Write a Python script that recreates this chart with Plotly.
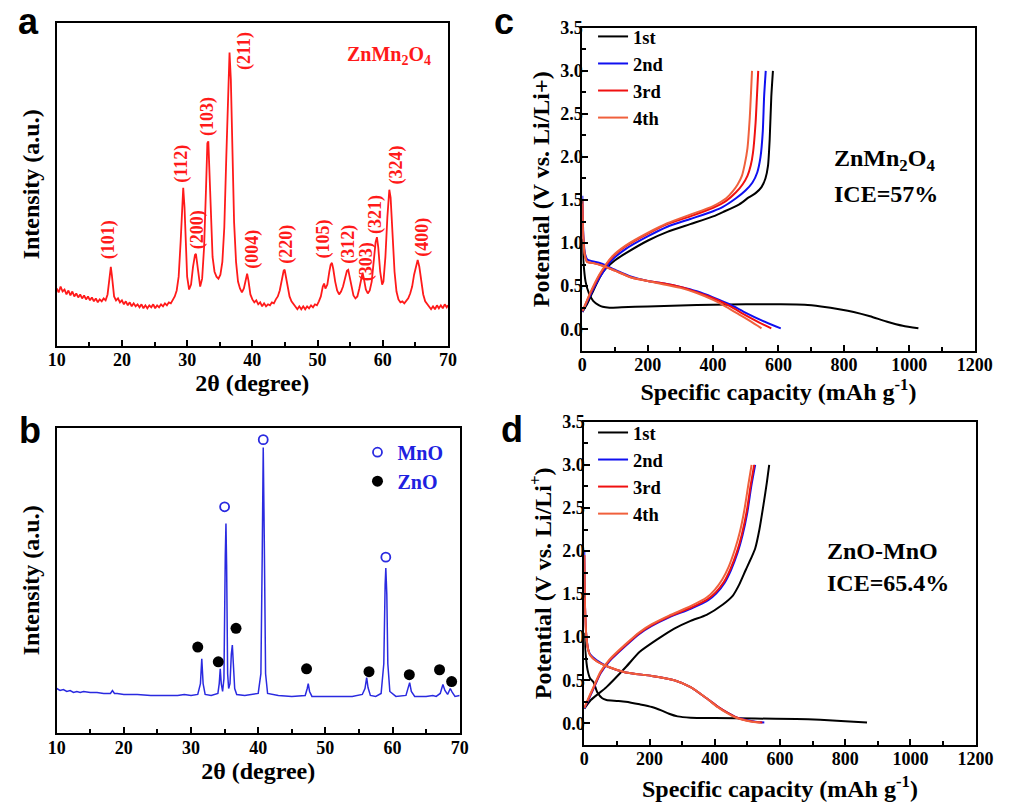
import plotly.graph_objects as go

# ---------------- Panel a: XRD ZnMn2O4 ----------------
xrd_a_2theta = [10.0, 10.3, 10.6, 10.9, 11.2, 11.5, 11.8, 12.1, 12.4, 12.7, 13.0, 13.3, 13.6, 13.9, 14.2, 14.5,
                14.8, 15.1, 15.4, 15.7, 16.0, 16.3, 16.6, 16.9, 17.2, 17.5, 17.8, 18.0, 18.2, 18.3, 18.45, 18.6,
                18.8, 19.1, 19.4, 19.7, 20.0, 20.3, 20.6, 20.9, 21.2, 21.5, 21.8, 22.1, 22.4, 22.7, 23.0, 23.3,
                23.6, 23.9, 24.2, 24.5, 24.8, 25.1, 25.4, 25.7, 26.0, 26.3, 26.6, 26.9, 27.2, 27.5, 27.8, 28.1,
                28.4, 28.7, 29.0, 29.2, 29.4, 29.6, 29.8, 30.0, 30.3, 30.6, 30.9, 31.2, 31.35, 31.5, 31.8, 32.0,
                32.3, 32.6, 32.9, 33.1, 33.25, 33.4, 33.6, 33.9, 34.2, 34.5, 34.8, 35.1, 35.4, 35.7, 36.0, 36.3,
                36.5, 36.7, 36.9, 37.2, 37.5, 37.8, 38.1, 38.4, 38.7, 39.0, 39.2, 39.4, 39.7, 40.0, 40.3, 40.6,
                40.9, 41.2, 41.5, 41.8, 42.1, 42.4, 42.7, 43.0, 43.3, 43.6, 43.9, 44.2, 44.5, 44.8, 44.95, 45.1,
                45.4, 45.7, 46.0, 46.3, 46.6, 46.9, 47.2, 47.5, 47.8, 48.1, 48.4, 48.7, 49.0, 49.3, 49.6, 49.9,
                50.2, 50.5, 50.8, 51.0, 51.2, 51.5, 51.8, 52.0, 52.2, 52.4, 52.7, 53.0, 53.3, 53.6, 53.9, 54.2,
                54.5, 54.7, 54.9, 55.2, 55.5, 55.8, 56.1, 56.4, 56.7, 56.9, 57.1, 57.4, 57.7, 58.0, 58.3, 58.6,
                58.9, 59.1, 59.3, 59.6, 59.9, 60.1, 60.4, 60.7, 61.0, 61.2, 61.5, 61.8, 62.1, 62.4, 62.7, 63.0,
                63.3, 63.6, 63.9, 64.2, 64.5, 64.8, 65.1, 65.35, 65.6, 65.9, 66.2, 66.5, 66.8, 67.1, 67.4, 67.7,
                68.0, 68.3, 68.6, 68.9, 69.2, 69.5, 69.8, 70.0]
xrd_a_intensity = [58, 54, 60, 55, 57, 52, 56, 51, 55, 50, 53, 49, 52, 48, 51, 47,
                   50, 46, 49, 45, 48, 44, 47, 45, 48, 46, 52, 62, 76, 80, 72, 58,
                   50, 46, 48, 44, 46, 42, 45, 41, 44, 40, 43, 40, 42, 39, 42, 38,
                   41, 38, 41, 39, 42, 38, 41, 39, 42, 40, 43, 41, 44, 43, 47, 50,
                   56, 70, 105, 140, 160, 140, 100, 70, 57, 62, 80, 92, 93, 85, 65, 60,
                   68, 100, 160, 205, 207, 180, 130, 90, 75, 70, 68, 72, 85, 120, 190, 265,
                   297, 270, 200, 125, 85, 65, 58, 54, 58, 68, 73, 66, 52, 47, 44, 46,
                   42, 44, 40, 43, 40, 42, 41, 44, 43, 47, 50, 56, 66, 76, 77, 72,
                   60, 50, 45, 42, 40, 37, 40, 37, 40, 37, 40, 38, 41, 39, 42, 41,
                   45, 50, 60, 63, 58, 62, 75, 82, 84, 78, 65, 56, 52, 55, 60, 68,
                   76, 77, 70, 58, 51, 48, 50, 58, 70, 74, 68, 57, 53, 56, 65, 85,
                   105, 110, 100, 75, 62, 65, 90, 130, 158, 150, 110, 75, 55, 47, 44, 45,
                   43, 46, 48, 53, 60, 72, 82, 87, 80, 65, 52, 45, 42, 40, 37, 40,
                   37, 41, 38, 41, 38, 42, 39, 41]
peak_labels = ["(101)", "(112)", "(200)", "(103)", "(211)", "(004)", "(220)",
               "(105)", "(312)", "(303)", "(321)", "(324)", "(400)"]
peak_label_x = [17.9, 29.0, 31.5, 33.1, 38.8, 39.9, 45.1, 50.9, 54.6, 57.5, 58.9, 62.1, 66.1]
peak_label_y = [107, 184, 118, 232, 298, 98, 103, 108, 103, 85, 133, 183, 110]

# ---------------- Panel b: XRD ZnO-MnO ----------------
xrd_b_2theta = [10, 10.5, 11, 11.5, 12, 12.5, 13, 13.5, 14, 15, 16, 17, 18, 18.3, 18.6, 19, 20, 22, 24, 26,
                28, 29, 30, 31, 31.4, 31.6, 31.8, 32.1, 33, 34, 34.2, 34.35, 34.5, 34.7, 34.9, 35.1, 35.2,
                35.3, 35.45, 35.6, 35.8, 36.0, 36.15, 36.3, 36.5, 36.8, 38, 40.0, 40.4, 40.6, 40.75, 40.9,
                41.1, 41.4, 43, 45, 47, 47.3, 47.45, 47.65, 48, 50, 52, 54, 55.5, 55.9, 56.15, 56.35, 56.7,
                57.5, 58.3, 58.7, 58.9, 59.0, 59.15, 59.3, 59.6, 60.5, 62, 62.35, 62.55, 62.8, 63.3, 65, 66,
                66.5, 67.1, 67.5, 67.8, 68.2, 68.6, 68.9, 69.3, 70]
xrd_b_intensity = [45, 43, 44, 42, 43, 41, 42, 41, 42, 41, 41, 40, 40, 43, 40, 40, 39, 39, 38, 38,
                   38, 39, 38, 39, 50, 75, 50, 39, 38, 40, 50, 65, 50, 42, 55, 180, 212,
                   170, 60, 45, 50, 80, 89, 70, 45, 39, 38, 40, 60, 180, 289, 200,
                   60, 40, 38, 37, 38, 45, 50, 42, 37, 37, 37, 37, 39, 45, 56, 46, 38,
                   37, 40, 70, 150, 167, 140, 70, 42, 37, 38, 45, 51, 42, 37, 37, 38,
                   37, 40, 49, 43, 39, 45, 41, 37, 38]
mno_x = [35.0, 40.75, 59.0]
mno_y = [229, 297, 178]
zno_x = [31.0, 34.06, 36.7, 47.2, 56.5, 62.5, 67.0, 68.8]
zno_y = [87, 72, 106, 65, 62, 59, 64, 52]
legend_b_names = ["MnO", "ZnO"]

# ---------------- Panel c: ZnMn2O4 charge/discharge ----------------
cycle_names = ["1st", "2nd", "3rd", "4th"]
c_dis1_cap = [0, 3, 10, 20, 33, 50, 62, 83, 120, 200, 300, 400, 500, 600, 680, 730, 790, 830, 880, 930, 980, 1028]
c_dis1_v = [1.05, 0.80, 0.55, 0.42, 0.33, 0.28, 0.26, 0.25, 0.255, 0.265, 0.275, 0.285, 0.29, 0.29, 0.285, 0.265,
            0.23, 0.20, 0.15, 0.09, 0.04, 0.01]
c_chg1_cap = [0, 13, 30, 62, 100, 132, 201, 260, 330, 400, 430, 480, 509, 530, 548, 560, 568, 573, 578, 583]
c_chg1_v = [0.20, 0.28, 0.42, 0.66, 0.80, 0.88, 1.03, 1.13, 1.22, 1.31, 1.36, 1.45, 1.53, 1.58, 1.65, 1.75, 1.90,
            2.20, 2.70, 3.00]
c_dis2_cap = [0, 3, 8, 15, 30, 60, 100, 150, 200, 250, 300, 350, 400, 450, 500, 550, 607]
c_dis2_v = [1.55, 1.10, 0.88, 0.81, 0.79, 0.76, 0.69, 0.61, 0.56, 0.53, 0.49, 0.44, 0.37, 0.29, 0.19, 0.10, 0.01]
c_chg2_cap = [0, 5, 25, 53, 90, 132, 201, 260, 330, 400, 430, 470, 499, 520, 535, 545, 552, 556, 561]
c_chg2_v = [0.20, 0.24, 0.40, 0.60, 0.80, 0.93, 1.08, 1.19, 1.28, 1.37, 1.42, 1.52, 1.61, 1.70, 1.82, 2.00, 2.30,
            2.70, 3.00]
c_dis3_cap = [0, 3, 8, 15, 30, 60, 100, 150, 200, 250, 300, 350, 400, 450, 500, 540, 578]
c_dis3_v = [1.50, 1.05, 0.85, 0.78, 0.77, 0.74, 0.68, 0.60, 0.56, 0.53, 0.49, 0.43, 0.36, 0.27, 0.16, 0.08, 0.01]
c_chg3_cap = [0, 5, 25, 53, 90, 132, 201, 260, 330, 400, 440, 470, 490, 505, 515, 522, 530, 534, 538]
c_chg3_v = [0.21, 0.25, 0.42, 0.63, 0.83, 0.96, 1.11, 1.22, 1.31, 1.41, 1.49, 1.59, 1.68, 1.78, 1.90, 2.05, 2.40,
            2.70, 3.00]
c_dis4_cap = [0, 3, 8, 15, 30, 60, 100, 150, 200, 250, 300, 350, 400, 440, 480, 515, 548]
c_dis4_v = [1.50, 1.05, 0.85, 0.78, 0.77, 0.74, 0.68, 0.60, 0.56, 0.52, 0.48, 0.42, 0.34, 0.26, 0.17, 0.09, 0.01]
c_chg4_cap = [0, 5, 25, 53, 90, 132, 201, 260, 330, 400, 440, 460, 475, 488, 497, 505, 512, 516, 519]
c_chg4_v = [0.21, 0.25, 0.43, 0.64, 0.84, 0.97, 1.12, 1.23, 1.33, 1.43, 1.52, 1.60, 1.68, 1.78, 1.92, 2.10, 2.45,
            2.75, 3.00]

# ---------------- Panel d: ZnO-MnO charge/discharge ----------------
d_dis1_cap = [0, 3, 10, 18, 28, 40, 55, 68, 100, 127, 170, 207, 236, 260, 286, 326, 400, 524, 650, 723, 800, 867]
d_dis1_v = [1.05, 0.85, 0.62, 0.52, 0.48, 0.36, 0.29, 0.27, 0.26, 0.25, 0.22, 0.19, 0.15, 0.11, 0.08, 0.065, 0.06,
            0.055, 0.05, 0.04, 0.025, 0.01]
d_chg1_cap = [0, 20, 68, 127, 170, 226, 276, 326, 375, 425, 455, 475, 495, 512, 524, 537, 550, 560, 567]
d_chg1_v = [0.17, 0.27, 0.42, 0.65, 0.83, 0.98, 1.10, 1.19, 1.26, 1.38, 1.48, 1.61, 1.78, 1.92, 2.03, 2.25, 2.55,
            2.80, 3.00]
d_dis2_cap = [0, 2, 6, 12, 18, 38, 77, 127, 207, 276, 326, 375, 410, 440, 465, 500, 530, 552]
d_dis2_v = [2.0, 1.40, 1.03, 0.86, 0.80, 0.73, 0.65, 0.59, 0.55, 0.50, 0.42, 0.29, 0.19, 0.12, 0.07, 0.035, 0.015,
            0.01]
d_chg2_cap = [0, 10, 28, 50, 77, 127, 170, 207, 260, 326, 380, 405, 430, 450, 470, 485, 500, 512, 524]
d_chg2_v = [0.17, 0.25, 0.40, 0.58, 0.72, 0.90, 1.04, 1.13, 1.23, 1.33, 1.43, 1.51, 1.63, 1.78, 1.98, 2.18, 2.45,
            2.75, 3.00]
d_dis3_cap = [0, 2, 6, 12, 18, 38, 77, 127, 207, 276, 326, 375, 410, 440, 465, 495, 525, 546]
d_dis3_v = [1.95, 1.38, 1.02, 0.85, 0.79, 0.72, 0.65, 0.59, 0.55, 0.50, 0.42, 0.29, 0.19, 0.12, 0.07, 0.035, 0.015,
            0.01]
d_chg3_cap = [0, 10, 28, 50, 77, 127, 170, 207, 260, 326, 378, 403, 428, 448, 468, 483, 498, 510, 521]
d_chg3_v = [0.18, 0.26, 0.41, 0.59, 0.73, 0.91, 1.05, 1.14, 1.24, 1.34, 1.44, 1.52, 1.64, 1.79, 1.99, 2.19, 2.46,
            2.76, 3.00]
d_dis4_cap = [0, 2, 6, 12, 18, 38, 77, 127, 207, 276, 326, 375, 408, 437, 462, 492, 520, 540]
d_dis4_v = [1.95, 1.38, 1.02, 0.85, 0.79, 0.72, 0.65, 0.59, 0.55, 0.50, 0.42, 0.29, 0.19, 0.12, 0.07, 0.035, 0.015,
            0.01]
d_chg4_cap = [0, 10, 28, 50, 77, 127, 170, 207, 260, 326, 375, 400, 423, 443, 462, 477, 491, 503, 513]
d_chg4_v = [0.18, 0.27, 0.42, 0.60, 0.74, 0.92, 1.06, 1.15, 1.25, 1.36, 1.46, 1.55, 1.67, 1.82, 2.02, 2.22, 2.48,
            2.77, 3.00]

cycle_colors = ["#000000", "#1010f0", "#f01010", "#f0603c"]

SERIF = "Liberation Serif"
fig = go.Figure()

# panel a
fig.add_trace(go.Scatter(x=xrd_a_2theta, y=xrd_a_intensity, mode="lines",
                         line=dict(color="#ff1a1a", width=1.8), showlegend=False,
                         xaxis="x", yaxis="y"))
# panel b
fig.add_trace(go.Scatter(x=xrd_b_2theta, y=xrd_b_intensity, mode="lines",
                         line=dict(color="#2a2ae0", width=1.5), showlegend=False,
                         xaxis="x2", yaxis="y2"))
fig.add_trace(go.Scatter(x=mno_x, y=mno_y, mode="markers", name=legend_b_names[0],
                         marker=dict(symbol="circle-open", size=9, color="#2a2ae0", line=dict(width=1.8)),
                         legend="legend3", xaxis="x2", yaxis="y2"))
fig.add_trace(go.Scatter(x=zno_x, y=zno_y, mode="markers", name=legend_b_names[1],
                         marker=dict(symbol="circle", size=11, color="black"),
                         legend="legend3", xaxis="x2", yaxis="y2"))

# panel c
c_sets = [(c_dis1_cap, c_dis1_v, c_chg1_cap, c_chg1_v),
          (c_dis2_cap, c_dis2_v, c_chg2_cap, c_chg2_v),
          (c_dis3_cap, c_dis3_v, c_chg3_cap, c_chg3_v),
          (c_dis4_cap, c_dis4_v, c_chg4_cap, c_chg4_v)]
for i, (dc, dv, cc, cv) in enumerate(c_sets):
    fig.add_trace(go.Scatter(x=dc, y=dv, mode="lines", name=cycle_names[i], legendgroup="c" + str(i),
                             line=dict(color=cycle_colors[i], width=2, shape="spline", smoothing=0.6),
                             legend="legend", xaxis="x3", yaxis="y3"))
    fig.add_trace(go.Scatter(x=cc, y=cv, mode="lines", name=cycle_names[i], legendgroup="c" + str(i),
                             showlegend=False,
                             line=dict(color=cycle_colors[i], width=2, shape="spline", smoothing=0.6),
                             legend="legend", xaxis="x3", yaxis="y3"))

# panel d
d_sets = [(d_dis1_cap, d_dis1_v, d_chg1_cap, d_chg1_v),
          (d_dis2_cap, d_dis2_v, d_chg2_cap, d_chg2_v),
          (d_dis3_cap, d_dis3_v, d_chg3_cap, d_chg3_v),
          (d_dis4_cap, d_dis4_v, d_chg4_cap, d_chg4_v)]
for i, (dc, dv, cc, cv) in enumerate(d_sets):
    fig.add_trace(go.Scatter(x=dc, y=dv, mode="lines", name=cycle_names[i], legendgroup="d" + str(i),
                             line=dict(color=cycle_colors[i], width=2, shape="spline", smoothing=0.6),
                             legend="legend2", xaxis="x4", yaxis="y4"))
    fig.add_trace(go.Scatter(x=cc, y=cv, mode="lines", name=cycle_names[i], legendgroup="d" + str(i),
                             showlegend=False,
                             line=dict(color=cycle_colors[i], width=2, shape="spline", smoothing=0.6),
                             legend="legend2", xaxis="x4", yaxis="y4"))

tickfont = dict(family=SERIF, size=18, color="black", weight="bold")
titlefont = dict(family=SERIF, size=24, color="black", weight="bold")
W, H = 1016, 810


def xdom(l, r):
    return [l / W, r / W]


def ydom(t, b):
    return [1 - b / H, 1 - t / H]


def xaxis(dom, rng, dtick, mdtick, anchor, title, standoff):
    return dict(domain=dom, range=rng, anchor=anchor, dtick=dtick, tick0=0,
                showline=True, linecolor="black", linewidth=2, mirror=True,
                ticks="inside", ticklen=6, tickwidth=2, tickcolor="black", ticklabelstandoff=-3,
                minor=dict(ticks="inside", ticklen=4, tickwidth=1.5, tickcolor="black", dtick=mdtick),
                showgrid=False, zeroline=False, tickfont=tickfont,
                title=dict(text=title, font=titlefont, standoff=standoff))


def yaxis_xrd(dom, rng, anchor, standoff):
    return dict(domain=dom, range=rng, anchor=anchor, showline=True, linecolor="black", linewidth=2,
                mirror=True, ticks="", showticklabels=False, showgrid=False, zeroline=False,
                title=dict(text="Intensity (a.u.)", font=titlefont, standoff=standoff))


def yaxis_ec(dom, anchor, title):
    return dict(domain=dom, range=[-0.25, 3.5], anchor=anchor, dtick=0.5, tick0=0, tickformat=".1f",
                showline=True, linecolor="black", linewidth=2, mirror=True,
                ticks="inside", ticklen=6, tickwidth=2, tickcolor="black", ticklabelstandoff=-6,
                minor=dict(ticks="inside", ticklen=4, tickwidth=1.5, tickcolor="black", dtick=0.25),
                showgrid=False, zeroline=False, tickfont=tickfont,
                title=dict(text=title, font=titlefont, standoff=4))


annotations = []
for lab, lx, ly in zip(peak_labels, peak_label_x, peak_label_y):
    annotations.append(dict(text=lab, x=lx, y=ly, xref="x", yref="y", showarrow=False, textangle=-90,
                            font=dict(family=SERIF, size=18, color="#ff1a1a", weight="bold")))

annotations += [
    dict(text="ZnMn<sub>2</sub>O<sub>4</sub>", x=345 / W, y=1 - 46 / H, xref="paper", yref="paper",
         xanchor="left", yanchor="middle", showarrow=False,
         font=dict(family=SERIF, size=20, color="#ff1a1a", weight="bold")),
    dict(text="ZnMn<sub>2</sub>O<sub>4</sub>", x=845 / W, y=1 - 152 / H, xref="paper", yref="paper",
         xanchor="left", yanchor="middle", showarrow=False,
         font=dict(family=SERIF, size=24, color="black", weight="bold")),
    dict(text="ICE=57%", x=845 / W, y=1 - 186 / H, xref="paper", yref="paper",
         xanchor="left", yanchor="middle", showarrow=False,
         font=dict(family=SERIF, size=24, color="black", weight="bold")),
    dict(text="ZnO-MnO", x=838 / W, y=1 - 548 / H, xref="paper", yref="paper",
         xanchor="left", yanchor="middle", showarrow=False,
         font=dict(family=SERIF, size=24, color="black", weight="bold")),
    dict(text="ICE=65.4%", x=838 / W, y=1 - 580 / H, xref="paper", yref="paper",
         xanchor="left", yanchor="middle", showarrow=False,
         font=dict(family=SERIF, size=24, color="black", weight="bold")),
]
panel_font = dict(family="Liberation Sans", size=36, color="black", weight="bold")
for letter, px, py in [("a", 20, 12), ("b", 22, 426), ("c", 509, 12), ("d", 517, 425)]:
    annotations.append(dict(text=letter, x=px / W, y=1 - py / H, xref="paper", yref="paper",
                            xanchor="center", yanchor="middle", showarrow=False, font=panel_font))

legend_common = dict(bgcolor="rgba(0,0,0,0)", borderwidth=0, xanchor="left", yanchor="top",
                     font=dict(family=SERIF, size=18.5, color="black", weight="bold"),
                     tracegroupgap=0, traceorder="normal")

fig.update_layout(
    width=W, height=H, margin=dict(l=0, r=0, t=0, b=0), autosize=False,
    paper_bgcolor="white", plot_bgcolor="white",
    xaxis=xaxis(xdom(49, 451), [10, 70], 10, 5, "y", "2θ (degree)", 3),
    yaxis=yaxis_xrd(ydom(13, 340), [0, 327], "x", 8),
    xaxis2=xaxis(xdom(49, 463), [10, 70], 10, 5, "y2", "2θ (degree)", 6),
    yaxis2=yaxis_xrd(ydom(423, 732), [0, 309], "x2", 8),
    xaxis3=xaxis(xdom(589, 992), [0, 1200], 200, 100, "y3", "Specific capacity (mAh g<sup>-1</sup>)", 2),
    yaxis3=yaxis_ec(ydom(18, 345), "x3", "Potential (V vs. Li/Li+)"),
    xaxis4=xaxis(xdom(591, 993), [0, 1200], 200, 100, "y4", "Specific capacity (mAh g<sup>-1</sup>)", 12),
    yaxis4=yaxis_ec(ydom(417, 744), "x4", "Potential (V vs. Li/Li<sup>+</sup>)"),
    legend=dict(x=600 / W, y=1 - 8 / H, **legend_common),
    legend2=dict(x=600 / W, y=1 - 409 / H, **legend_common),
    legend3=dict(x=358 / W, y=1 - 428 / H,
                 **{**legend_common, "font": dict(family=SERIF, size=20, color="#2020e0", weight="bold")}),
    annotations=annotations,
)

fig.write_html("out.html")
